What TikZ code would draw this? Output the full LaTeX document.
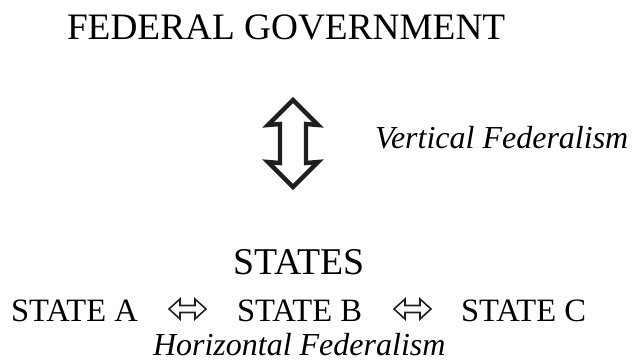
\documentclass[tikz,border=0pt]{standalone}
\usepackage{fontspec}
\setmainfont{Liberation Serif}
\begin{document}
\begin{tikzpicture}[x=1pt,y=-1pt,
  lbl/.style={anchor=base west,inner sep=0pt,outer sep=0pt},
  big/.style={lbl,font=\fontsize{37.3}{40}\selectfont},
  bigs/.style={lbl,font=\fontsize{37.8}{40}\selectfont},
  mid/.style={lbl,font=\fontsize{32.6}{36}\selectfont},
  ital/.style={lbl,font=\fontsize{32}{36}\selectfont\itshape},
  hollow/.style={draw=black!88,line width=1.6pt,line join=miter},
  vhollow/.style={draw=black!88,line width=4.4pt,line join=miter}]
\useasboundingbox (0,0) rectangle (632,362);
% texts
\node[big] (fed) at (67,39) {FEDERAL GOVERNMENT};
\node[ital] (vert) at (375,148) {Vertical Federalism};
\node[bigs] (states) at (233,274) {STATES};
\node[mid] (sa) at (11,321) {STATE A};
\node[mid] (sb) at (237,321) {STATE B};
\node[mid] (sc) at (461,321) {STATE C};
\node[ital] (horiz) at (153,355) {Horizontal Federalism};
% vertical double arrow (outline)
\coordinate (vt) at (293,100);
\coordinate (vb) at (293,187);
\draw[vhollow] (vt) -- ++(-25,25) -- ++(12,-1) -- (280,163) -- (268,162)
  -- (vb) -- (318,162) -- (306,163) -- (306,124) -- (318,125) -- cycle;
% horizontal double arrows (outline)
\coordinate (h1) at (169,309);
\coordinate (h2) at (394,309);
\foreach \p in {h1,h2}{
  \draw[hollow] (\p) -- ++(11,-10) -- ++(0,6.5) -- ++(15,0) -- ++(0,-6.5)
    -- ++(11,10) -- ++(-11,10) -- ++(0,-6.5) -- ++(-15,0) -- ++(0,6.5) -- cycle;
}
\end{tikzpicture}
\end{document}
